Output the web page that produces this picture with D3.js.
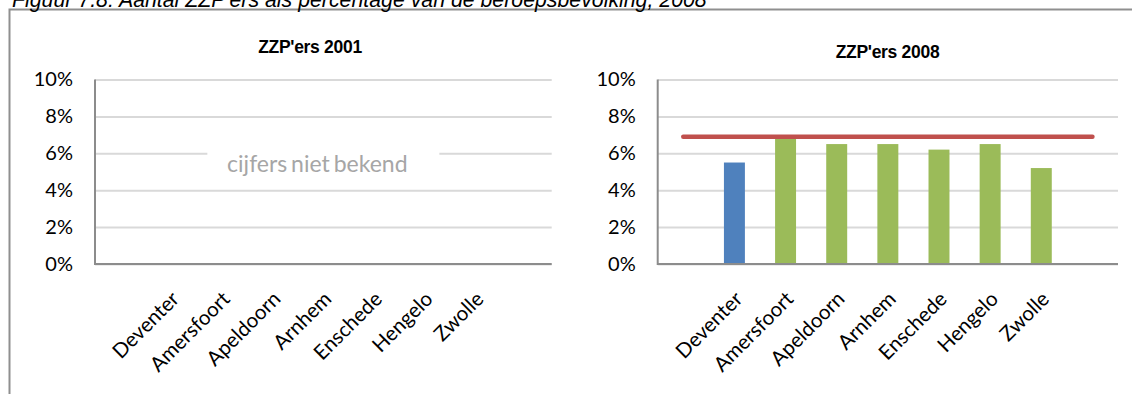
<!DOCTYPE html>
<html>
<head>
<meta charset="utf-8">
<script src="https://cdn.jsdelivr.net/npm/d3@7"></script>
<style>
  html, body { margin: 0; padding: 0; background: #fff; }
  svg { display: block; }
</style>
</head>
<body>
<svg id="chart" width="1132" height="394"></svg>
<script>
// ---- data ----
const figureTitle = "Figuur 7.8: Aantal ZZP'ers als percentage van de beroepsbevolking, 2008";
const categories = ["", "Deventer", "Amersfoort", "Apeldoorn", "Arnhem", "Enschede", "Hengelo", "Zwolle", ""];
const values2001 = [null, null, null, null, null, null, null, null, null];
const values2008 = [null, 5.5, 6.8, 6.5, 6.5, 6.2, 6.5, 5.2, null];
const reference2008 = [6.9, 6.9, 6.9, 6.9, 6.9, 6.9, 6.9, 6.9, 6.9];
const yTicks = [0, 2, 4, 6, 8, 10];
const panelTitles = ["ZZP'ers 2001", "ZZP'ers 2008"];
const noDataText = "cijfers niet bekend";
const highlightCategory = "Deventer";

// ---- styles / layout ----
const C = { blue: "#4f81bd", green: "#9bbb59", red: "#c0504d", grid: "#d9d9d9", axis: "#8c8c8c", text: "#000" };
const tickFont = "Lato, 'Open Sans', sans-serif";
const svg = d3.select("#chart");

// frame + figure caption (cut off at top, as in the source)
svg.append("path").attr("d", "M9.5,394 V9.5 H1132").attr("fill", "none")
  .attr("stroke", "#8f8f8f").attr("stroke-width", 2);
svg.append("text").attr("x", 12).attr("y", 7)
  .attr("font-family", "'Liberation Sans', Arial, sans-serif").attr("font-style", "italic")
  .attr("font-size", 21.3).attr("fill", "#000").text(figureTitle);

const y = d3.scaleLinear().domain([0, 10]).range([264, 79.5]);

const panels = [
  { x0: 95, x1: 551.7, title: panelTitles[0], tx: 310, ty: 53, values: values2001, ref: null },
  { x0: 657.7, x1: 1118, title: panelTitles[1], tx: 887.5, ty: 57.5, values: values2008, ref: reference2008 }
];

panels.forEach((p) => {
  const g = svg.append("g");
  const idx = d3.range(categories.length);
  const x = d3.scaleBand().domain(idx).range([p.x0, p.x1]).paddingInner(0.59).paddingOuter(0.295);
  const xc = i => x(i) + x.bandwidth() / 2;

  // title
  g.append("text").attr("x", p.tx).attr("y", p.ty).attr("text-anchor", "middle")
    .attr("font-family", "'Liberation Sans', Arial, sans-serif").attr("font-weight", "bold")
    .attr("font-size", 17.5).attr("letter-spacing", -0.3).attr("fill", C.text).text(p.title);

  // gridlines + y labels
  const ya = g.append("g").attr("transform", `translate(${p.x0},0)`)
    .call(d3.axisLeft(y).tickValues(yTicks).tickFormat(d => d + "%")
      .tickSize(-(p.x1 - p.x0)).tickPadding(22));
  ya.select(".domain").remove();
  ya.selectAll(".tick line").attr("stroke", C.grid).attr("stroke-width", 2);
  ya.selectAll(".tick text").attr("font-family", tickFont).attr("font-size", 20).attr("fill", C.text);

  // no-data note
  if (p.values.every(v => v == null)) {
    const cx = (p.x0 + p.x1) / 2;
    g.append("rect").attr("x", cx - 116).attr("y", 146).attr("width", 232).attr("height", 30).attr("fill", "#fff");
    g.append("text").attr("x", cx - 6).attr("y", 171.7).attr("text-anchor", "middle")
      .attr("font-family", tickFont).attr("font-size", 23).attr("fill", "#a6a6a6")
      .attr("word-spacing", -2).text(noDataText);
  }

  // bars
  g.append("g").selectAll("rect").data(idx.filter(i => p.values[i] != null)).join("rect")
    .attr("x", i => x(i)).attr("width", x.bandwidth())
    .attr("y", i => y(p.values[i])).attr("height", i => y(0) - y(p.values[i]) + 1)
    .attr("fill", i => categories[i] === highlightCategory ? C.blue : C.green);

  // axis lines
  g.append("line").attr("x1", p.x0).attr("x2", p.x0).attr("y1", y(10)).attr("y2", y(0) + 1)
    .attr("stroke", C.axis).attr("stroke-width", 2);
  g.append("line").attr("x1", p.x0).attr("x2", p.x1).attr("y1", y(0)).attr("y2", y(0))
    .attr("stroke", C.axis).attr("stroke-width", 2);

  // reference line
  if (p.ref) {
    g.append("path").datum(idx)
      .attr("d", d3.line().x(i => xc(i)).y(i => y(p.ref[i])))
      .attr("fill", "none").attr("stroke", C.red).attr("stroke-width", 4.5).attr("stroke-linecap", "round");
  }

  // category labels
  const xa = g.append("g").attr("transform", `translate(0,${y(0)})`)
    .call(d3.axisBottom(x).tickFormat(i => categories[i]).tickSize(0));
  xa.select(".domain").remove();
  xa.selectAll(".tick text").attr("x", 0).attr("y", 0).attr("dy", "0.5em")
    .attr("text-anchor", "end").attr("transform", "translate(2,29) rotate(-45)")
    .attr("font-family", tickFont).attr("font-size", 20.5).attr("fill", C.text);
});
</script>
</body>
</html>
